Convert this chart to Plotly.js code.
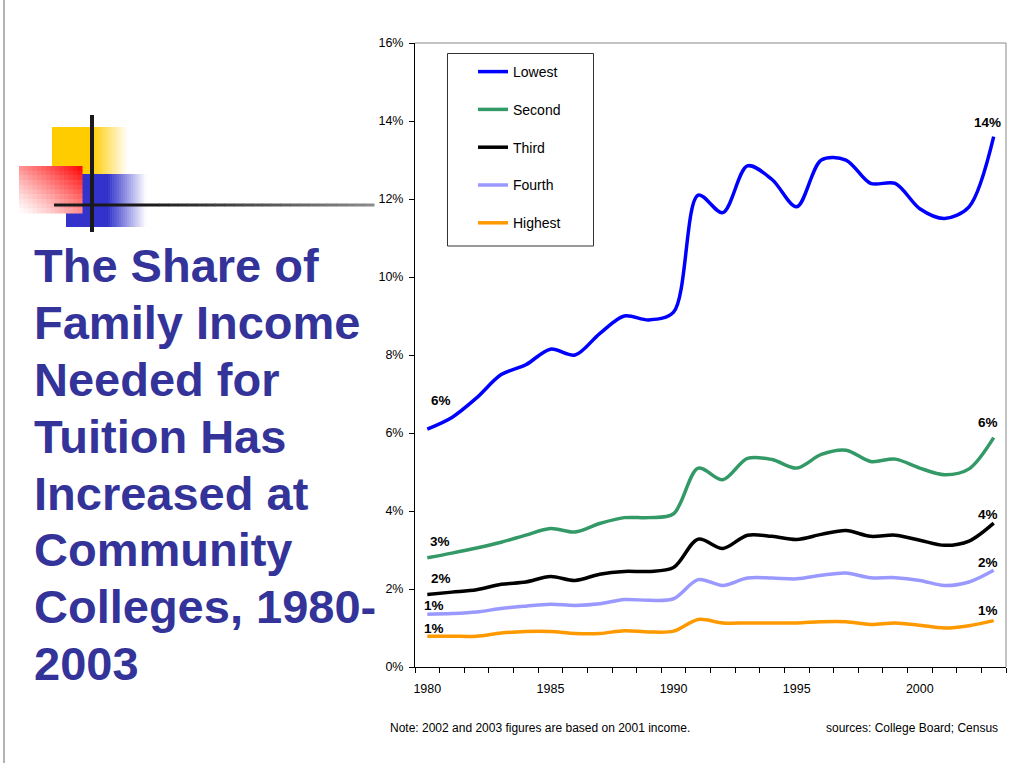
<!DOCTYPE html>
<html>
<head>
<meta charset="utf-8">
<script src="https://cdn.plot.ly/plotly-3.0.1.min.js"></script>
<style>
html,body{margin:0;padding:0;background:#fff;}
#chart{width:1016px;height:763px;}
</style>
</head>
<body>
<div id="chart"></div>
<script>
// ---- data ----
const years = [1980,1981,1982,1983,1984,1985,1986,1987,1988,1989,1990,1991,1992,1993,1994,1995,1996,1997,1998,1999,2000,2001,2002,2003];
const seriesNames = ["Lowest","Second","Third","Fourth","Highest"];
const lowest  = [6.1,6.4,6.9,7.5,7.75,8.15,8.0,8.55,9.0,8.9,9.1,12.1,11.65,12.85,12.5,11.8,13.0,13.0,12.4,12.4,11.75,11.5,11.8,13.6];
const second  = [2.8,2.92,3.05,3.2,3.38,3.55,3.46,3.68,3.83,3.83,3.93,5.1,4.8,5.35,5.32,5.1,5.45,5.56,5.27,5.33,5.1,4.93,5.08,5.88];
const third   = [1.86,1.92,1.98,2.12,2.18,2.32,2.22,2.38,2.45,2.45,2.55,3.28,3.04,3.38,3.35,3.27,3.4,3.5,3.35,3.38,3.25,3.12,3.23,3.69];
const fourth  = [1.35,1.37,1.41,1.5,1.56,1.61,1.58,1.62,1.73,1.71,1.75,2.24,2.09,2.28,2.28,2.26,2.35,2.41,2.29,2.29,2.22,2.09,2.18,2.48];
const highest = [0.79,0.79,0.79,0.87,0.91,0.91,0.86,0.86,0.93,0.9,0.92,1.22,1.13,1.13,1.13,1.13,1.16,1.16,1.09,1.13,1.07,1.0,1.06,1.19];
const xTickYears = [1980,1985,1990,1995,2000];
const yTicks = [0,2,4,6,8,10,12,14,16];
const titleLines = ["The Share of","Family Income","Needed for","Tuition Has","Increased at","Community","Colleges, 1980-","2003"];
const noteText = "Note: 2002 and 2003 figures are based on 2001 income.";
const sourceText = "sources: College Board; Census";

// ---- styles ----
const allSeries = [lowest, second, third, fourth, highest];
const colors = ["#0000FF","#339966","#000000","#9999FF","#FF9900"];
const startOffsets = [[14,-29],[13,-16],[14,-16],[7,-9],[7,-8]];
const endOffsets   = [[-6,-14],[-6,-15],[-6,-9],[-6,-8],[-6,-10]];
const FONT = "Liberation Sans, Arial, sans-serif";

// plot area in pixels
const L = 415, R = 1006, T = 43, B = 667;
const px = x => (x - L) / (R - L);
const py = y => (B - y) / (B - T);

function mix(hex, t) { // t=1 full colour, t=0 white
  const c = [1,3,5].map(i => parseInt(hex.substr(i,2),16));
  const m = c.map(v => Math.round(255 + (v - 255) * t));
  return "rgb(" + m.join(",") + ")";
}
function rect(x0,y0,x1,y1,fill){
  return {type:"rect", xref:"paper", yref:"paper", x0:px(x0), x1:px(x1), y0:py(y1), y1:py(y0),
          fillcolor:fill, line:{width:0}, layer:"above"};
}
function fadeRect(x0,y0,xs,x1,y1,hex,n){ // solid x0..xs then fade to white at x1
  const out = [rect(x0,y0,xs+0.5,y1,hex)];
  const w = (x1 - xs)/n;
  for(let i=0;i<n;i++){
    out.push(rect(xs+i*w, y0, xs+(i+1)*w+0.6, y1, mix(hex, 1-(i+0.5)/n)));
  }
  return out;
}

const shapes = [];
// left slide border
shapes.push({type:"line", xref:"paper", yref:"paper", x0:px(4), x1:px(4), y0:py(0), y1:py(763), line:{color:"#999999", width:1.5}, layer:"above"});
// decoration
fadeRect(52,127,92,128,174,"#FFCC00",16).forEach(s=>shapes.push(s));
fadeRect(66,174,108,146,227,"#3333CC",18).forEach(s=>shapes.push(s));
// red diagonal gradient rect
shapes.push(rect(19,166,82,213,"#FFFFFF"));
{
  const nx=14, ny=10, x0=19, x1=82, y0=166, y1=213;
  const w=(x1-x0)/nx, h=(y1-y0)/ny;
  for(let i=0;i<nx;i++) for(let j=0;j<ny;j++){
    const t = ((i+0.5)/nx + 1 - (j+0.5)/ny)/2;
    shapes.push(rect(x0+i*w, y0+j*h, x0+(i+1)*w+0.5, y0+(j+1)*h+0.5, mix("#FF0000", Math.pow(t,1.2))));
  }
}
// cross lines
shapes.push({type:"line", xref:"paper", yref:"paper", x0:px(92), x1:px(92), y0:py(115), y1:py(232), line:{color:"#1a1a1a", width:4}, layer:"above"});
shapes.push({type:"line", xref:"paper", yref:"paper", x0:px(54), x1:px(150), y0:py(205), y1:py(205), line:{color:"#1a1a1a", width:3}, layer:"above"});
{
  const n=24, xa=150, xb=374;
  for(let i=0;i<n;i++){
    const t=(i+0.5)/n;
    const v=Math.round(26 + (140-26)*t);
    shapes.push({type:"line", xref:"paper", yref:"paper", x0:px(xa+(xb-xa)*i/n), x1:px(xa+(xb-xa)*(i+1)/n+0.5), y0:py(205), y1:py(205),
      line:{color:"rgb("+v+","+v+","+v+")", width:3}, layer:"above"});
  }
}
// plot frame (top and right in grey)
shapes.push({type:"line", xref:"paper", yref:"paper", x0:0, x1:1, y0:1, y1:1, line:{color:"#888888", width:1}});
shapes.push({type:"line", xref:"paper", yref:"paper", x0:1, x1:1, y0:0, y1:1, line:{color:"#888888", width:1}});
// legend box
shapes.push({type:"rect", xref:"paper", yref:"paper", x0:px(447.5), x1:px(593.5), y0:py(246), y1:py(53.5), line:{color:"#333333", width:1}, fillcolor:"rgba(0,0,0,0)"});

// ---- traces ----
const traces = allSeries.map((vals,i)=>({
  type:"scatter", mode:"lines", x:years, y:vals, name:seriesNames[i],
  legendgroup:"g"+i,
  line:{color:colors[i], width:3.5, shape:"spline", smoothing:0.9},
  hoverinfo:"skip"
}));

// ---- annotations ----
const annotations = [];
titleLines.forEach((t,i)=>{
  const baseline = 282 + 56.85*i;
  annotations.push({xref:"paper", yref:"paper", x:px(32), y:py(baseline-16.3), xanchor:"left", yanchor:"middle",
    text:t, showarrow:false, font:{family:FONT, size:47, color:"#333399", weight:"bold"}});
});
allSeries.forEach((vals,i)=>{
  const first = vals[0], last = vals[vals.length-1];
  annotations.push({x:years[0], y:first, xref:"x", yref:"y", text:Math.round(first)+"%", showarrow:false,
    xshift:startOffsets[i][0], yshift:-startOffsets[i][1], font:{family:FONT, size:13.5, color:"#000", weight:"bold"}});
  annotations.push({x:years[years.length-1], y:last, xref:"x", yref:"y", text:Math.round(last)+"%", showarrow:false,
    xshift:endOffsets[i][0], yshift:-endOffsets[i][1], font:{family:FONT, size:13.5, color:"#000", weight:"bold"}});
});
annotations.push({xref:"paper", yref:"paper", x:px(388), y:py(728), xanchor:"left", yanchor:"middle", text:noteText, showarrow:false,
  font:{family:FONT, size:12, color:"#000"}});
annotations.push({xref:"paper", yref:"paper", x:px(1000), y:py(728), xanchor:"right", yanchor:"middle", text:sourceText, showarrow:false,
  font:{family:FONT, size:12, color:"#000"}});

const layout = {
  width:1016, height:763,
  margin:{l:L, r:1016-R, t:T, b:763-B, pad:0},
  paper_bgcolor:"#ffffff", plot_bgcolor:"#ffffff",
  font:{family:FONT, size:12.5, color:"#000"},
  showlegend:true,
  legend:{x:px(473), y:py(56), xanchor:"left", yanchor:"top", bgcolor:"rgba(0,0,0,0)", borderwidth:0,
    font:{family:FONT, size:14, color:"#000"}, traceorder:"grouped", tracegroupgap:16.6, itemwidth:30},
  xaxis:{range:[1979.5,2003.5], tickmode:"array", tickvals:xTickYears, ticktext:xTickYears.map(String),
    ticks:"", showgrid:false, zeroline:false, showline:true, linecolor:"#000", linewidth:1,
    ticklabelstandoff:10, tickfont:{family:FONT, size:12.5, color:"#000"},
    minor:{ticks:"outside", tick0:1979.5, dtick:1, ticklen:5, tickcolor:"#000", tickwidth:1, showgrid:false}},
  yaxis:{range:[0,16], tickmode:"array", tickvals:yTicks, ticktext:yTicks.map(v=>v+"%"),
    ticks:"outside", ticklen:5, tickcolor:"#000", tickwidth:1, showgrid:false, zeroline:false,
    showline:true, linecolor:"#000", linewidth:1, ticklabelstandoff:3, tickfont:{family:FONT, size:12.5, color:"#000"}},
  shapes:shapes,
  annotations:annotations
};

Plotly.newPlot("chart", traces, layout, {displayModeBar:false, staticPlot:true});
</script>
</body>
</html>
